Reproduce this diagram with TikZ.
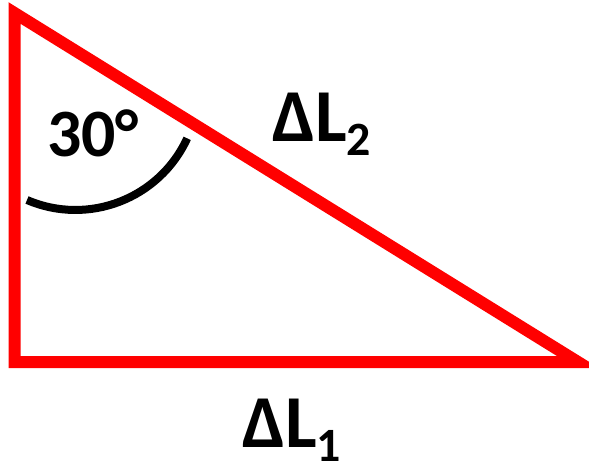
\documentclass[tikz,border=0pt]{standalone}
\usepackage{fontspec}
\setmainfont{Carlito}
\newcommand{\lowidx}[1]{\raisebox{-14bp}{\fontsize{48}{50}\selectfont #1}}
\begin{document}
\begin{tikzpicture}[
x=1bp, y=-1bp, % pixel grid, y runs downwards
side/.style={draw=red, line width=12bp, line join=miter},
anglearc/.style={draw=black, line width=8bp},
every node/.style={font=\bfseries\fontsize{75}{80}\selectfont, inner sep=0pt, anchor=base west}
]
\useasboundingbox (0,0) rectangle (589,468);

% ================= Triangle =================
\coordinate (top) at (14.5,13);
\coordinate (corner) at (14.5,362);
\coordinate (tip) at (578,362);
\draw[side] (top) -- (corner) -- (tip) -- cycle;

% ================= Angle =================
\coordinate (arcstart) at (27,200);
\draw[anglearc] (arcstart) arc[start angle=113.2, end angle=24.7, radius=123];

% ================= Labels =================
\node[font=\bfseries\fontsize{68}{72}\selectfont] (angle) at (47,157) {30°};
\node (dL2) at (272,142) {ΔL\lowidx{2}};
\node (dL1) at (242,447) {ΔL\lowidx{1}};

\end{tikzpicture}
\end{document}
